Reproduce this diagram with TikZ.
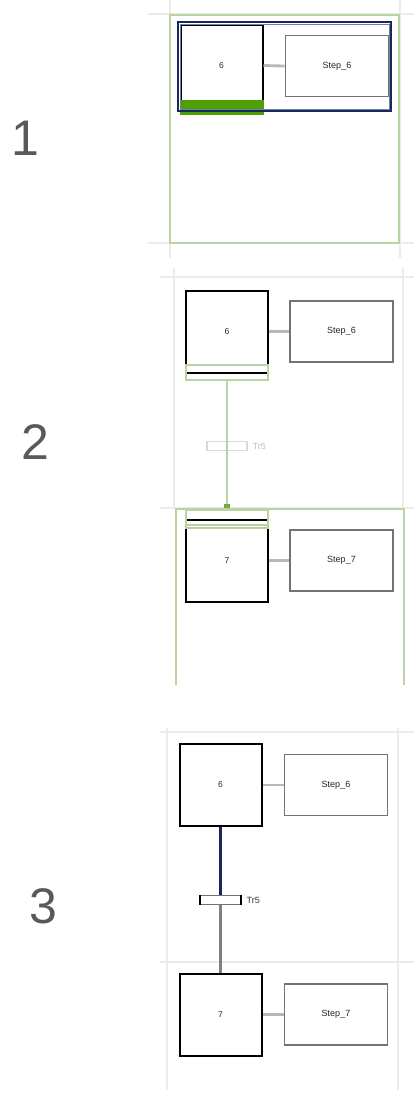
\documentclass[tikz,border=0pt]{standalone}
\usepackage{fontspec}
\setmainfont{Liberation Sans}
\begin{document}
\begin{tikzpicture}[x=1pt,y=-1pt,
  gridln/.style={draw=black!8,line width=2.6pt},
  greenln/.style={draw=grn,line width=2pt},
  stepbox/.style={draw=black,line width=2pt,fill=white,minimum width=82pt,minimum height=82pt,inner sep=0pt,font=\fontsize{8.5}{8.5}\selectfont,text=black!85},
  actbox/.style={draw=black!55,line width=1.6pt,fill=white,minimum width=103pt,minimum height=61pt,inner sep=0pt,font=\fontsize{9}{9}\selectfont,text=black!85},
  link/.style={draw=black!28,line width=2.8pt},
  trbox/.style={draw=black!55,line width=1.8pt,fill=white,minimum width=40pt,minimum height=9pt,inner sep=0pt},
  trlab/.style={font=\fontsize{9}{9}\selectfont,text=black!80,anchor=west,inner sep=0pt},
  panel/.style={font=\fontsize{50}{50}\selectfont,text=black!65}
]
\definecolor{grn}{HTML}{B9D3A2}
\definecolor{grnbar}{HTML}{4E9F00}
\definecolor{grnmark}{HTML}{6FAA45}
\definecolor{navy}{HTML}{17285A}
\definecolor{navyin}{HTML}{7080A8}
\useasboundingbox[fill=white] (0,0) rectangle (414,1096);

% ---------- panel labels
\node[panel] (p1) at (25,138) {1};
\node[panel] (p2) at (35,442) {2};
\node[panel] (p3) at (43.5,906) {3};

% ---------- panel 1
\draw[gridln] (170,0) -- (170,258);
\draw[gridln] (400,0) -- (400,258);
\draw[gridln] (148,14) -- (414,14);
\draw[gridln] (148,243) -- (414,243);
\draw[greenln] (170,15) rectangle (399,243);
\node[stepbox] (a6) at (221.5,65.5) {6};
\node[actbox] (b6) at (337,66) {Step\_6};
\draw[link] (a6.east) -- (b6.west);
\fill[grnbar] (180,100) rectangle (264,115);
\draw[navyin,line width=1pt] (180,24) rectangle (389,109);
\draw[navy,line width=2.4pt] (178,22) rectangle (391,111);

% ---------- panel 2
\draw[gridln] (174,268) -- (174,508);
\draw[gridln] (403,268) -- (403,508);
\draw[gridln] (160,277) -- (414,277);
\draw[gridln] (160,508) -- (414,508);
\node[stepbox] (c6) at (227,331.5) {6};
\node[actbox] (d6) at (341.5,331.5) {Step\_6};
\draw[link] (c6.east) -- (d6.west);
\draw[greenln,line width=1.5pt] (186,365) rectangle (268,380);
\node[trbox,draw=black!15,line width=1.2pt] (t2) at (227,446) {};
\node[trlab,text=black!25] (tl2) at ([xshift=5pt]t2.east) {Tr5};
\node[stepbox] (c7) at (227,560.5) {7};
\node[actbox] (d7) at (341.5,560.5) {Step\_7};
\draw[link] (c7.east) -- (d7.west);
\draw[greenln,line width=1.5pt] (186,510) rectangle (268,528);
\draw[greenln,line width=1.5pt] (186,525) -- (268,525);
\coordinate (g2top) at (227,380);
\coordinate (g2bot) at (227,507);
\draw[greenln,line width=1.8pt] (g2top) -- (g2bot);
\fill[grnmark] ([xshift=-3pt,yshift=-3pt]g2bot) rectangle ([xshift=3pt,yshift=3pt]g2bot);
\draw[greenln] (176,685) -- (176,509) -- (404,509) -- (404,685);

% ---------- panel 3
\draw[gridln] (167,728) -- (167,1090);
\draw[gridln] (398,728) -- (398,1090);
\draw[gridln] (160,732) -- (414,732);
\draw[gridln] (160,962) -- (414,962);
\node[stepbox] (e6) at (220.5,785) {6};
\node[actbox] (f6) at (336,785) {Step\_6};
\draw[link] (e6.east) -- (f6.west);
\node[trbox] (t3) at (220.5,900) {};
\draw[black,line width=2pt] (t3.north west) -- (t3.south west);
\draw[black,line width=2pt] (t3.north east) -- (t3.south east);
\node[trlab] (tl3) at ([xshift=5pt]t3.east) {Tr5};
\node[stepbox] (e7) at (220.5,1014.5) {7};
\node[actbox] (f7) at (336,1014.5) {Step\_7};
\draw[link] (e7.east) -- (f7.west);
\draw[navy,line width=2.6pt] (e6.south) -- (t3.north);
\draw[black!50,line width=2.6pt] (t3.south) -- (e7.north);
\end{tikzpicture}
\end{document}
